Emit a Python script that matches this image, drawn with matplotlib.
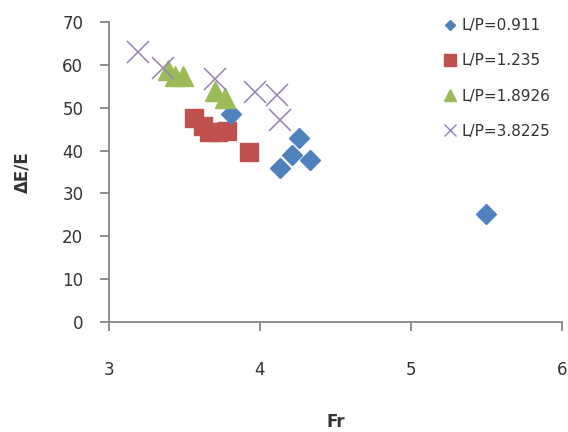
import matplotlib
matplotlib.use("Agg")
import matplotlib.pyplot as plt
from matplotlib.lines import Line2D

plt.rcParams["font.family"] = ["DejaVu Sans"]

# Data
fr_0911 = [3.81, 4.26, 4.21, 4.33, 4.13, 5.50]
de_0911 = [48.5, 42.9, 38.9, 37.8, 35.9, 25.2]
fr_1235 = [3.56, 3.62, 3.66, 3.72, 3.78, 3.93]
de_1235 = [47.6, 45.7, 44.3, 44.3, 44.5, 39.6]
fr_18926 = [3.39, 3.44, 3.49, 3.70, 3.77]
de_18926 = [58.7, 57.5, 57.5, 53.8, 52.2]
fr_38225 = [3.19, 3.36, 3.70, 3.97, 4.11, 4.13]
de_38225 = [63.0, 59.2, 56.6, 53.6, 52.9, 47.1]
labels = ["L/P=0.911", "L/P=1.235", "L/P=1.8926", "L/P=3.8225"]
xticks = [3, 4, 5, 6]
yticks = [0, 10, 20, 30, 40, 50, 60, 70]

c_blue = "#4F81BD"
c_red = "#C0504D"
c_green = "#9BBB59"
c_purple = "#9580B5"

fig = plt.figure(figsize=(5.68, 4.32), dpi=100)
ax = fig.add_axes([0.192, 0.255, 0.797, 0.694])

ax.plot(fr_1235, de_1235, ls="none", marker="s", ms=13.5, color=c_red, mec=c_red, zorder=2)
ax.plot(fr_0911, de_0911, ls="none", marker="D", ms=10, color=c_blue, mec=c_blue, zorder=3)
ax.plot(fr_18926, de_18926, ls="none", marker="^", ms=14, color=c_green, mec=c_green, zorder=4)
ax.plot(fr_38225, de_38225, ls="none", marker="x", ms=16, mew=1.1, color=c_purple, zorder=5)

ax.set_xlim(3, 6)
ax.set_ylim(0, 70)
ax.set_xticks(xticks)
ax.set_yticks(yticks)
ax.set_xticklabels([str(t) for t in xticks])
ax.set_yticklabels([str(t) for t in yticks])

grey = "#868686"
for s in ["top", "right"]:
    ax.spines[s].set_visible(False)
for s in ["left", "bottom"]:
    ax.spines[s].set_color(grey)
    ax.spines[s].set_linewidth(1.3)
ax.tick_params(axis="both", direction="out", length=6.5, width=1.3, color=grey,
               labelsize=12, labelcolor="#333333")
ax.tick_params(axis="x", pad=22)
ax.tick_params(axis="y", pad=12)

ax.set_xlabel("Fr", fontsize=12, fontweight="bold", color="#333333", labelpad=24)
ax.set_ylabel("ΔE/E", fontsize=12, fontweight="bold", color="#333333", labelpad=22)

handles = [
    Line2D([], [], ls="none", marker="D", ms=5.5, color=c_blue),
    Line2D([], [], ls="none", marker="s", ms=8, color=c_red),
    Line2D([], [], ls="none", marker="^", ms=8, color=c_green),
    Line2D([], [], ls="none", marker="x", ms=8, mew=1.0, color=c_purple),
]
leg = fig.legend(handles, labels, loc="upper left", bbox_to_anchor=(0.77, 0.972),
                 frameon=False, fontsize=11, labelspacing=1.32, handlelength=0.8,
                 handletextpad=0.35, borderaxespad=0)
for t in leg.get_texts():
    t.set_color("#333333")

fig.savefig("out.png", dpi=100)
